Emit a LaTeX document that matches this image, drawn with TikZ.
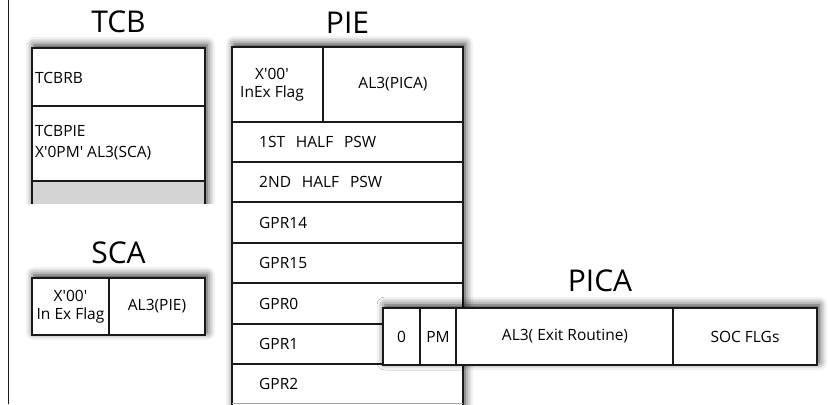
\documentclass[tikz,border=0pt]{standalone}
\usepackage{fontspec}
\setmainfont{Open Sans}[Ligatures=TeXOff]
\usetikzlibrary{shadows.blur}
\begin{document}
\begin{tikzpicture}[x=1pt,y=-1pt,
  shad/.style={blur shadow={shadow xshift=2pt,shadow yshift=3pt,shadow blur radius=8pt,shadow opacity=85}},
  title/.style={font=\fontsize{30}{33}\selectfont,inner sep=0pt},
  lbl/.style={font=\fontsize{15.5}{18}\selectfont,inner sep=0pt},
  lbll/.style={lbl,anchor=west},
  twoline/.style={lbl,align=center,font=\fontsize{15.5}{18}\selectfont},
  cell/.style={draw=black!90,line width=1.5pt}]
\useasboundingbox (0,0) rectangle (829,404);
\clip (0,0) rectangle (829,404);
\draw[line width=1pt,black!90] (8,0) -- (8,404);

% ---------- TCB ----------
\node[title] (tcbt) at (118.5,22) {TCB};
\begin{scope}
  \clip (0,0) rectangle (829,203);
  \fill[white,shad] (32,48) rectangle (205,220);
  \fill[black!17] (32,181) rectangle (205,220);
  \draw[cell] (32,220) -- (32,48) -- (205,48) -- (205,220);
  \draw[cell] (32,106) -- (205,106);
  \draw[cell] (32,181) -- (205,181);
\end{scope}
\node[lbll] (tcbrb) at (35,78) {TCBRB};
\node[lbll,align=left,font=\fontsize{15.5}{21}\selectfont] (tcbpie) at (35,143) {TCBPIE\\X'0PM' AL3(SCA)};

% ---------- SCA ----------
\node[title] (scat) at (118.5,253) {SCA};
\fill[white,shad] (32,278) rectangle (205,335);
\draw[cell] (32,278) rectangle (205,335);
\draw[cell] (109,278) -- (109,335);
\node[twoline] (scaflag) at (70.5,306.5) {X'00'\\In Ex Flag};
\node[lbl] (scaal) at (157,306.5) {AL3(PIE)};

% ---------- PIE ----------
\node[title] (piet) at (347.5,23) {PIE};
\fill[white,shad] (232,47) rectangle (463,420);
\draw[cell] (232,420) -- (232,47) -- (463,47) -- (463,420);
\draw[cell] (323,47) -- (323,122);
\foreach \yy in {122,162,202,243,283,324,364}
  \draw[cell] (232,\yy) -- (463,\yy);
\draw[black!35,line width=1pt] (232,403.5) -- (463,403.5);
\node[twoline] (pieflag) at (272,84.5) {X'00'\\InEx Flag};
\node[lbl] (pieal) at (393,84.5) {AL3(PICA)};
\node[lbll] (psw1) at (259,142) {1ST\hspace{0.7em}HALF\hspace{0.7em}PSW};
\node[lbll] (psw2) at (259,182) {2ND\hspace{0.7em}HALF\hspace{0.7em}PSW};
\node[lbll] (g14) at (259,222.5) {GPR14};
\node[lbll] (g15) at (259,263) {GPR15};
\node[lbll] (g0) at (259,303.5) {GPR0};
\node[lbll] (g1) at (259,344) {GPR1};
\node[lbll] (g2) at (259,384) {GPR2};

% ---------- PICA ----------
\node[title] (picat) at (600,281) {PICA};
\fill[white,shad] (383,308) rectangle (817,365);
\draw[cell] (383,308) rectangle (817,365);
\foreach \xx in {420,456,673}
  \draw[cell] (\xx,308) -- (\xx,365);
\node[lbl] (pz) at (401.5,336.5) {0};
\node[lbl] (ppm) at (438,336.5) {PM};
\node[lbl] (pal) at (565,336.5) {AL3( Exit Routine)};
\node[lbl] (psoc) at (745,336.5) {SOC FLGs};
\end{tikzpicture}
\end{document}
